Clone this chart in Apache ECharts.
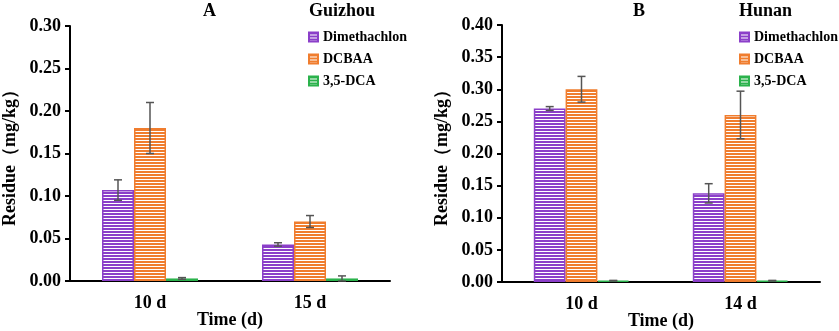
<!DOCTYPE html>
<html><head><meta charset="utf-8">
<script src="https://cdn.jsdelivr.net/npm/echarts@6/dist/echarts.min.js"></script>
<style>html,body{margin:0;padding:0;background:#fff}#c{width:839px;height:331px}</style>
</head><body><div id="c"></div>
<script>
const seriesNames = ['Dimethachlon', 'DCBAA', '3,5-DCA'];
const categoriesA = ['10 d', '15 d'];
const dimA = [0.107, 0.043];
const dimAErr = [0.012, 0.002];
const dcbaaA = [0.18, 0.07];
const dcbaaAErr = [0.03, 0.007];
const dcaA = [0.003, 0.003];
const dcaAErr = [0.001, 0.003];
const categoriesB = ['10 d', '14 d'];
const dimB = [0.27, 0.138];
const dimBErr = [0.003, 0.015];
const dcbaaB = [0.30, 0.26];
const dcbaaBErr = [0.02, 0.037];
const dcaB = [0.002, 0.002];
const dcaBErr = [0.0005, 0.0005];
const yTicksA = { min: 0, max: 0.30, interval: 0.05 };
const yTicksB = { min: 0, max: 0.40, interval: 0.05 };

const colors = ['#8B3FC9', '#F07D2E', '#2BB24C'];
const FONT = '"Liberation Serif", "Times New Roman", serif';

function stripe(col) {
  const c = document.createElement('canvas');
  c.width = 4; c.height = 3;
  const g = c.getContext('2d');
  g.fillStyle = '#ffffff'; g.fillRect(0, 0, 4, 3);
  g.fillStyle = col; g.fillRect(0, 0, 4, 2);
  return { image: c, repeat: 'repeat' };
}

const chart = echarts.init(document.getElementById('c'));
const catGap = 0.4;

function barSeries(name, data, idx, axis) {
  return {
    name: name, type: 'bar', data: data,
    xAxisIndex: axis, yAxisIndex: axis,
    barGap: '0%', barCategoryGap: '40%',
    itemStyle: { color: stripe(colors[idx]), borderColor: colors[idx], borderWidth: 1.5 },
    emphasis: { disabled: true }
  };
}
function errSeries(vals, errs, idx, axis) {
  return {
    type: 'custom', xAxisIndex: axis, yAxisIndex: axis, z: 5,
    data: vals.map((v, i) => [i, v - errs[i], v + errs[i]]),
    renderItem: function (params, api) {
      const band = api.size([1, 0])[0];
      const bw = band * (1 - catGap) / 3;
      const x0 = api.coord([api.value(0), 0])[0] + (idx - 1) * bw;
      const lo = api.coord([api.value(0), api.value(1)])[1];
      const hi = api.coord([api.value(0), api.value(2)])[1];
      const cap = 4;
      const st = { stroke: '#555', lineWidth: 1.5 };
      return { type: 'group', children: [
        { type: 'line', shape: { x1: x0, y1: lo, x2: x0, y2: hi }, style: st },
        { type: 'line', shape: { x1: x0 - cap, y1: lo, x2: x0 + cap, y2: lo }, style: st },
        { type: 'line', shape: { x1: x0 - cap, y1: hi, x2: x0 + cap, y2: hi }, style: st }
      ]};
    }
  };
}

const axisLbl = { color: '#000', fontFamily: FONT, fontWeight: 'bold', fontSize: 18 };
function xAx(cats, gi) {
  return {
    type: 'category', data: cats, gridIndex: gi,
    axisLine: { lineStyle: { color: '#000', width: 2 } },
    axisTick: { show: false },
    axisLabel: Object.assign({ margin: 13 }, axisLbl),
    name: 'Time (d)', nameLocation: 'middle', nameGap: 30, nameMoveOverlap: false,
    nameTextStyle: { color: '#000', fontFamily: FONT, fontWeight: 'bold', fontSize: 18 }
  };
}
function yAx(t, gi) {
  return {
    type: 'value', gridIndex: gi, min: t.min, max: t.max, interval: t.interval,
    axisLine: { show: true, lineStyle: { color: '#000', width: 2 } },
    axisTick: { show: true, length: 5, lineStyle: { color: '#000', width: 2 } },
    splitLine: { show: false },
    axisLabel: Object.assign({ margin: 9, formatter: v => v.toFixed(2) }, axisLbl),
    name: 'Residue（mg/kg）', nameLocation: 'middle', nameRotate: 90, nameGap: 51, nameMoveOverlap: false,
    nameTextStyle: { color: '#000', fontFamily: FONT, fontWeight: 'bold', fontSize: 18 }
  };
}
const titleStyle = { color: '#000', fontFamily: FONT, fontWeight: 'bold', fontSize: 18 };
const legendCommon = {
  orient: 'vertical', icon: 'rect', itemWidth: 9, itemHeight: 9, itemGap: 8,
  data: seriesNames,
  textStyle: { color: '#000', fontFamily: FONT, fontWeight: 'bold', fontSize: 14 }
};

chart.setOption({
  animation: false,
  title: [
    { text: 'A', left: 198, top: -3, textStyle: titleStyle },
    { text: 'Guizhou', left: 304, top: -3, textStyle: titleStyle },
    { text: 'B', left: 628, top: -3, textStyle: titleStyle },
    { text: 'Hunan', left: 734, top: -3, textStyle: titleStyle }
  ],
  legend: [
    Object.assign({ left: 303, top: 25 }, legendCommon),
    Object.assign({ left: 734, top: 25 }, legendCommon)
  ],
  grid: [
    { left: 70, right: 449, top: 26, bottom: 50, containLabel: false, outerBoundsMode: 'none' },
    { left: 502, right: 19, top: 25, bottom: 49, containLabel: false, outerBoundsMode: 'none' }
  ],
  xAxis: [xAx(categoriesA, 0), xAx(categoriesB, 1)],
  yAxis: [yAx(yTicksA, 0), yAx(yTicksB, 1)],
  series: [
    barSeries(seriesNames[0], dimA, 0, 0),
    barSeries(seriesNames[1], dcbaaA, 1, 0),
    barSeries(seriesNames[2], dcaA, 2, 0),
    barSeries(seriesNames[0], dimB, 0, 1),
    barSeries(seriesNames[1], dcbaaB, 1, 1),
    barSeries(seriesNames[2], dcaB, 2, 1),
    errSeries(dimA, dimAErr, 0, 0),
    errSeries(dcbaaA, dcbaaAErr, 1, 0),
    errSeries(dcaA, dcaAErr, 2, 0),
    errSeries(dimB, dimBErr, 0, 1),
    errSeries(dcbaaB, dcbaaBErr, 1, 1),
    errSeries(dcaB, dcaBErr, 2, 1)
  ]
});
</script></body></html>
